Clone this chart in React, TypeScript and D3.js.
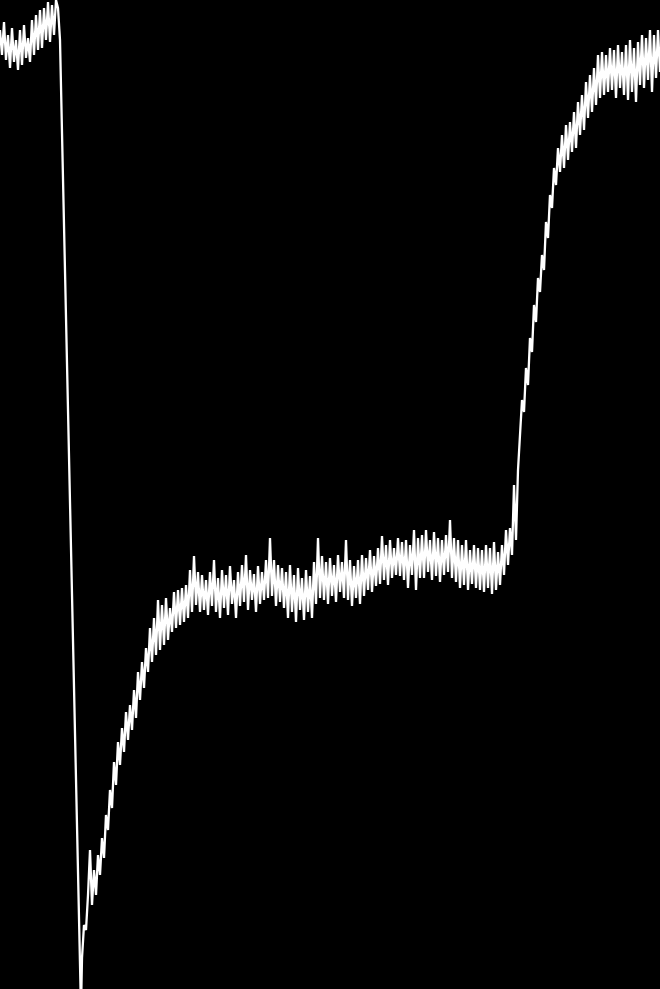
import { useMemo } from "react";
import * as d3 from "d3";

const WIDTH = 660;
const HEIGHT = 989;

// time axis runs 0..660, level axis 0..98.9
const timeDomain: [number, number] = [0, 660];
const levelDomain: [number, number] = [0, 98.9];

// opening stretch, sampled every 2 time units from t=0
const leadStart = 0;
const leadStep = 2;
const leadLevels = [
  95.9, 93.4, 96.7, 92.9, 95.4, 92.1, 96.1, 92.7, 94.9, 91.9,
  95.9, 92.4, 96.4, 93.1, 95.1, 92.7, 96.9, 93.4, 97.4, 93.9,
  97.9, 94.1, 98.1, 94.9, 98.7, 94.7, 98.4, 95.4, 98.9, 98.1,
  94.9,
];

// the single low reading after the crash
const dropTime = 81;
const dropLevel = -2.1;

// recovery, sampled every 2 time units from t=82
const mainStart = 82;
const mainStep = 2;
const mainLevels = [
  3.1, 6.4, 5.9, 9.4, 13.9, 8.4, 11.9, 9.4, 13.4, 11.4,
  15.1, 13.1, 17.4, 15.9, 19.9, 18.1, 22.7, 20.4, 24.7, 22.4,
  26.1, 23.7, 27.7, 24.9, 28.4, 25.9, 29.9, 27.1, 31.7, 28.9,
  32.7, 30.1, 34.1, 31.7, 36.1, 32.7, 37.1, 33.4, 38.9, 33.9,
  38.4, 34.4, 39.1, 34.9, 38.1, 35.7, 39.7, 36.1, 39.9, 36.4,
  40.1, 36.7, 40.4, 37.1, 41.9, 37.7, 43.3, 38.4, 41.7, 37.7,
  41.4, 37.9, 40.9, 37.4, 41.7, 38.3, 42.9, 37.7, 41.1, 37.1,
  41.9, 38.1, 41.4, 37.4, 42.3, 38.5, 40.9, 37.1, 41.7, 38.3,
  42.4, 38.7, 43.4, 37.9, 41.9, 38.9, 41.5, 37.7, 42.3, 38.5,
  41.7, 38.9, 42.9, 39.1, 45.1, 39.3, 42.9, 38.3, 42.4, 38.7,
  42.1, 38.1, 41.7, 37.1, 42.4, 37.7, 41.4, 36.7, 42.1, 37.9,
  41.1, 36.9, 41.9, 37.7, 41.3, 37.1, 42.7, 38.5, 45.1, 39.1,
  43.3, 38.9, 42.7, 38.5, 43.1, 39.3, 42.4, 38.7, 43.4, 39.7,
  42.7, 39.1, 44.9, 38.9, 42.9, 38.3, 42.3, 39.1, 42.9, 38.5,
  43.4, 39.3, 43.1, 39.9, 43.9, 39.7, 43.3, 40.3, 44.1, 40.5,
  45.3, 40.9, 44.4, 40.4, 44.9, 41.1, 44.1, 41.4, 45.1, 41.3,
  44.7, 40.9, 44.9, 40.1, 44.4, 41.4, 45.9, 39.9, 45.1, 41.1,
  45.4, 41.1, 45.9, 41.7, 44.9, 40.9, 45.7, 41.3, 45.1, 40.7,
  44.9, 41.4, 45.4, 41.7, 46.9, 41.1, 45.1, 40.7, 44.9, 40.1,
  44.4, 40.4, 44.9, 39.9, 43.9, 40.5, 44.4, 40.1, 44.1, 39.9,
  43.9, 39.7, 44.4, 40.1, 44.1, 39.5, 44.7, 39.9, 43.7, 40.4,
  44.4, 41.4, 45.9, 42.4, 46.1, 43.4, 50.4, 44.9, 51.9, 55.4,
  58.9, 57.7, 62.1, 60.4, 65.1, 63.7, 68.4, 66.7, 71.1, 69.7,
  73.4, 71.9, 76.7, 75.1, 79.4, 78.1, 82.1, 80.4, 84.1, 81.7,
  85.4, 82.1, 86.4, 82.9, 86.7, 83.7, 87.7, 84.1, 88.7, 85.4,
  89.4, 85.9, 90.7, 87.1, 91.4, 87.7, 92.1, 88.4, 93.4, 89.1,
  93.7, 89.4, 93.4, 89.7, 94.1, 89.9, 93.9, 89.1, 94.4, 90.1,
  93.7, 89.4, 94.4, 88.9, 94.9, 89.7, 94.1, 88.7, 94.7, 90.4,
  95.4, 90.1, 95.1, 90.9, 95.9, 89.7, 95.4, 91.1, 95.9, 91.7,
];

type Sample = { t: number; v: number };

export default function App() {
  const samples = useMemo<Sample[]>(() => {
    const out: Sample[] = [];
    leadLevels.forEach((v, i) => out.push({ t: leadStart + i * leadStep, v }));
    out.push({ t: dropTime, v: dropLevel });
    mainLevels.forEach((v, i) => out.push({ t: mainStart + i * mainStep, v }));
    return out;
  }, []);

  const x = d3.scaleLinear().domain(timeDomain).range([0, WIDTH]);
  const y = d3.scaleLinear().domain(levelDomain).range([HEIGHT, 0]);

  const path = d3
    .line<Sample>()
    .x((d) => x(d.t))
    .y((d) => y(d.v))(samples);

  return (
    <svg
      width={WIDTH}
      height={HEIGHT}
      style={{ position: "absolute", left: 0, top: 0, display: "block" }}
    >
      <rect width={WIDTH} height={HEIGHT} fill="#000" />
      <path
        d={path ?? ""}
        fill="none"
        stroke="#fff"
        strokeWidth={2.3}
        strokeLinejoin="bevel"
      />
    </svg>
  );
}
